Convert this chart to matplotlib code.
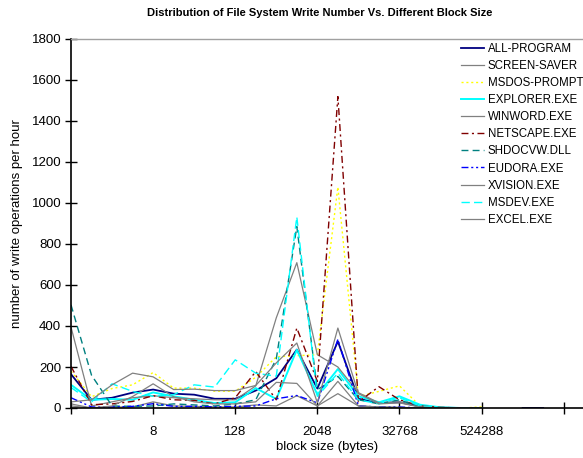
import numpy as np
import matplotlib
matplotlib.use("Agg")
import matplotlib.pyplot as plt

plt.rcParams['font.family'] = ['Liberation Sans', 'DejaVu Sans']

# block sizes are powers of two; one category per power, labels every fourth
tick_positions = [0, 4, 8, 12, 16, 20, 24]
tick_labels = ["", "8", "128", "2048", "32768", "524288", ""]

nan = np.nan
all_program = [165, 40, 50, 75, 90, 70, 65, 45, 45, 85, 145, 285, 95, 325, 45, 25, 28, 8, 2, 0, 0, nan, 0, 0]
screen_saver = [20, 0, 5, 5, 30, 10, 8, 5, 5, 15, 10, 60, 10, 70, 10, 5, 3, 0, 0, 0, 0]
msdos_prompt = [180, 55, 95, 113, 173, 97, 97, 82, 82, 150, 250, 255, 260, 1078, 56, 81, 108, 10, 3, 0, 5]
explorer = [113, 40, 44, 40, 76, 57, 40, 24, 28, 97, 44, 284, 65, 190, 57, 28, 57, 16, 3, 0, 0]
winword = [395, 10, 30, 50, 60, 50, 45, 40, 40, 108, 440, 709, 260, 200, 75, 25, 30, 5, 0, 0, 0]
netscape = [203, 16, 20, 32, 60, 40, 37, 20, 50, 178, 40, 390, 130, 1519, 30, 104, 40, 10, 3, 0, 0]
shdocvw = [503, 160, 10, 8, 10, 20, 15, 10, 20, 40, 240, 885, 89, 154, 40, 20, 40, 5, 0, 0, 0]
eudora = [50, 5, 5, 8, 21, 8, 8, 5, 8, 10, 45, 61, 25, 335, 10, 5, 5, 0, 0, 0, 0]
xvision = [10, 0, 10, 56, 118, 55, 30, 20, 20, 30, 125, 120, 10, 130, 10, 5, 3, 0, 0, 0, 0]
msdev = [100, 30, 118, 81, 57, 65, 113, 102, 235, 170, 155, 932, 57, 170, 40, 20, 50, 10, 2, 0, 0]
excel = [30, 40, 113, 170, 152, 90, 92, 85, 85, 110, 220, 317, 26, 390, 70, 20, 25, 5, 0, 0, 0]

series = [
    ("ALL-PROGRAM", all_program, dict(color="#000080", lw=1.3, ls="-")),
    ("SCREEN-SAVER", screen_saver, dict(color="#808080", lw=0.9, ls="-")),
    ("MSDOS-PROMPT", msdos_prompt, dict(color="#FFFF00", lw=1.0, ls=(0, (1.5, 2)))),
    ("EXPLORER.EXE", explorer, dict(color="#00FFFF", lw=1.4, ls="-")),
    ("WINWORD.EXE", winword, dict(color="#808080", lw=0.9, ls="-")),
    ("NETSCAPE.EXE", netscape, dict(color="#800000", lw=1.0, ls=(0, (5, 2.5, 1.5, 2.5)))),
    ("SHDOCVW.DLL", shdocvw, dict(color="#008080", lw=1.0, ls=(0, (5, 3)))),
    ("EUDORA.EXE", eudora, dict(color="#0000FF", lw=1.0, ls=(0, (5, 2, 1.5, 2, 1.5, 2)))),
    ("XVISION.EXE", xvision, dict(color="#808080", lw=0.9, ls="-")),
    ("MSDEV.EXE", msdev, dict(color="#00FFFF", lw=1.0, ls=(0, (6, 3)))),
    ("EXCEL.EXE", excel, dict(color="#808080", lw=0.9, ls="-")),
]

W, H = 583, 458
fig = plt.figure(figsize=(W / 100, H / 100), dpi=100)
left, right, top, bottom = 71, 583, 39, 408
ax = fig.add_axes([left / W, 1 - bottom / H, (right - left) / W, (bottom - top) / H])

for name, vals, style in series:
    ax.plot(np.arange(len(vals)), vals, label=name, **style)

px_per_cat = (563.7 - 71) / 24
ax.set_xlim(0, (right - left) / px_per_cat)
ax.set_ylim(0, 1800)
ax.set_yticks(np.arange(0, 1801, 200))
ax.set_xticks(tick_positions)
ax.set_xticklabels(tick_labels)

ax.tick_params(axis='both', direction='inout', length=8, width=1, labelsize=9.5, color='black')
ax.tick_params(axis='x', pad=9)
ax.tick_params(axis='y', pad=3)

for side in ("left", "bottom"):
    ax.spines[side].set_color("black")
    ax.spines[side].set_linewidth(1.2)
ax.spines["top"].set_color("#a0a0a0")
ax.spines["top"].set_linewidth(1.0)
ax.spines["right"].set_visible(False)

ax.set_xlabel("block size (bytes)", fontsize=9.5, labelpad=2)
ax.set_ylabel("number of write operations per hour", fontsize=9.5, labelpad=6)

fig.text(320 / W, 1 - 13 / H, "Distribution of File System Write Number Vs. Different Block Size",
         ha="center", va="center", fontsize=8.0, fontweight="bold")

leg = ax.legend(loc="upper left", bbox_to_anchor=(461 / W, 1 - 43 / H),
                bbox_transform=fig.transFigure, frameon=False, fontsize=8.3,
                handlelength=2.0, handletextpad=0.3, labelspacing=0.44, borderpad=0,
                borderaxespad=0)

fig.savefig("out.png", dpi=100)
